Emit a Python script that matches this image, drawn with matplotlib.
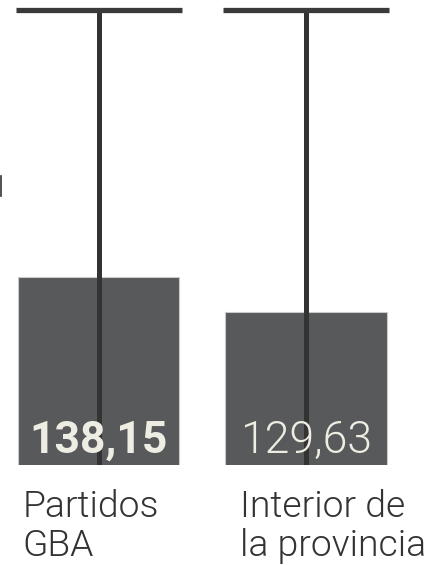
import matplotlib
matplotlib.use("Agg")
import matplotlib.pyplot as plt
from matplotlib.lines import Line2D

categories = ["Partidos\nGBA", "Interior de\nla provincia"]
values = [138.15, 129.63]
value_labels = ["138,15", "129,63"]
whisker_top = [202.1, 202.1]
label_weights = [700, 300]

W, H = 433, 565
fig = plt.figure(figsize=(W / 100, H / 100), dpi=100)
base_px = 464.5
ax = fig.add_axes([0, (H - base_px) / H, 1, base_px / H])
ax.axis("off")

xpos = [0, 1]
ymin = 93.2
ax.set_ylim(ymin, ymin + base_px / 4.178)
ax.set_xlim(-98.5 / 207.5, (W - 98.5) / 207.5)

ax.bar(xpos, values, width=0.78, color="#58595b", edgecolor="#c9c9c9",
       linewidth=0.8, zorder=2)
ax.vlines(xpos, ymin, whisker_top, color="#333333", linewidth=3.6, zorder=3)
ax.hlines(whisker_top, [x - 0.4 for x in xpos], [x + 0.4 for x in xpos],
          color="#3a3a3a", linewidth=3.8, zorder=3)

for x, lab, w in zip(xpos, value_labels, label_weights):
    ax.annotate(lab, xy=(x, ymin), xytext=(0, 8.3), textcoords="offset points",
                ha="center", va="baseline", fontsize=32, fontweight=w,
                family="Roboto", color="#eeede3", zorder=4)

label_offsets = [-0.368, -0.317]
for x, cat, off in zip(xpos, categories, label_offsets):
    ax.annotate(cat, xy=(x + off, 0), xycoords=("data", "axes fraction"),
                xytext=(0, -65.9), textcoords="offset points",
                ha="left", va="baseline", fontsize=26.8, fontweight=300,
                family="Roboto", color="#333333", linespacing=1.12,
                annotation_clip=False)

fig.add_artist(Line2D([0.8 / W, 0.8 / W], [1 - 176 / H, 1 - 196 / H],
                      transform=fig.transFigure, color="#333333", linewidth=1.2))

fig.savefig("out.png", dpi=100, facecolor="white")
